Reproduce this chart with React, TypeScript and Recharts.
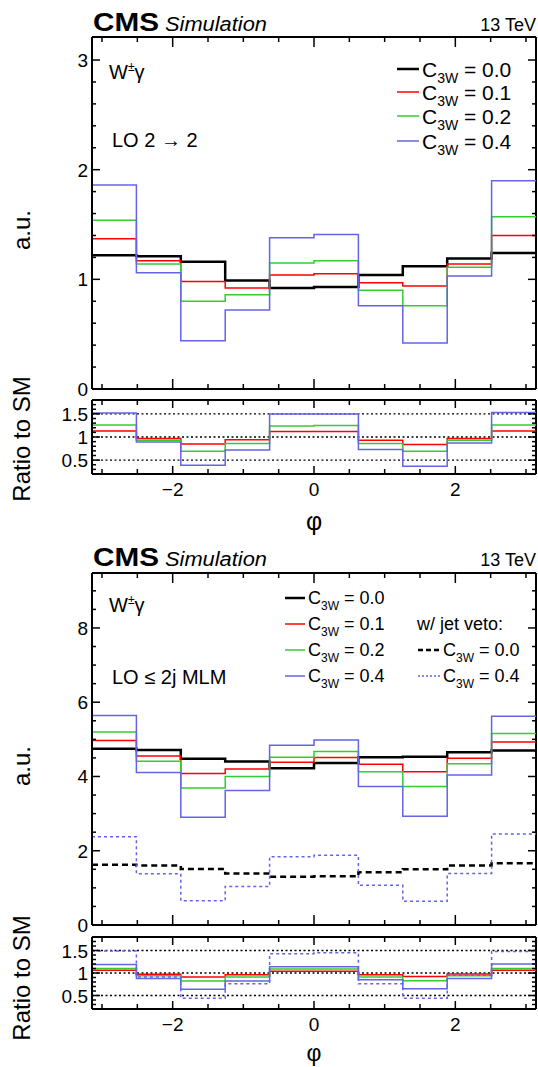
import { LineChart, Line, XAxis, YAxis, ReferenceLine } from 'recharts';

const FONT = '"Liberation Sans", Arial, Helvetica, sans-serif';
const PAGE_W = 538;
const PLOT_LEFT = 92;
const PLOT_W = 444;

// phi bin edges (10 bins over -pi..pi)
const binEdges = [-3.1416, -2.5133, -1.885, -1.2566, -0.6283, 0, 0.6283, 1.2566, 1.885, 2.5133, 3.1416];
const phiTicks = [-3, -2.5, -2, -1.5, -1, -0.5, 0, 0.5, 1, 1.5, 2, 2.5, 3];
const phiLabels = [-2, 0, 2];

// upper panel: LO 2 -> 2
const lo22C00 = [1.22, 1.21, 1.16, 0.99, 0.92, 0.93, 1.04, 1.12, 1.19, 1.24];
const lo22C01 = [1.37, 1.17, 0.98, 0.92, 1.04, 1.05, 0.97, 0.94, 1.14, 1.40];
const lo22C02 = [1.54, 1.14, 0.80, 0.86, 1.15, 1.17, 0.90, 0.76, 1.11, 1.57];
const lo22C04 = [1.86, 1.06, 0.44, 0.72, 1.38, 1.41, 0.76, 0.42, 1.03, 1.90];
const lo22RatioC01 = [1.13, 0.97, 0.85, 0.94, 1.12, 1.12, 0.93, 0.84, 0.97, 1.13];
const lo22RatioC02 = [1.26, 0.93, 0.69, 0.86, 1.24, 1.25, 0.86, 0.69, 0.93, 1.26];
const lo22RatioC04 = [1.52, 0.89, 0.39, 0.72, 1.50, 1.50, 0.73, 0.37, 0.87, 1.53];

// lower panel: LO <= 2j MLM
const mlmC00 = [4.75, 4.71, 4.48, 4.40, 4.22, 4.36, 4.52, 4.53, 4.65, 4.70];
const mlmC01 = [4.97, 4.55, 4.08, 4.20, 4.38, 4.51, 4.33, 4.13, 4.49, 4.93];
const mlmC02 = [5.20, 4.41, 3.69, 4.00, 4.52, 4.67, 4.13, 3.73, 4.34, 5.16];
const mlmC04 = [5.64, 4.11, 2.90, 3.62, 4.84, 4.98, 3.73, 2.93, 4.04, 5.62];
const vetoC00 = [1.62, 1.60, 1.51, 1.39, 1.30, 1.31, 1.42, 1.50, 1.60, 1.66];
const vetoC04 = [2.38, 1.38, 0.65, 1.04, 1.84, 1.88, 1.07, 0.64, 1.39, 2.45];
const mlmRatioC01 = [1.06, 0.97, 0.91, 0.96, 1.04, 1.04, 0.96, 0.92, 0.98, 1.06];
const mlmRatioC02 = [1.10, 0.94, 0.82, 0.91, 1.09, 1.09, 0.91, 0.83, 0.94, 1.10];
const mlmRatioC04 = [1.19, 0.88, 0.64, 0.82, 1.14, 1.14, 0.85, 0.65, 0.88, 1.20];
const vetoRatioC04 = [1.49, 0.91, 0.44, 0.76, 1.43, 1.45, 0.76, 0.44, 0.95, 1.48];

// y ticks
const lo22Ticks = [0, 0.2, 0.4, 0.6, 0.8, 1, 1.2, 1.4, 1.6, 1.8, 2, 2.2, 2.4, 2.6, 2.8, 3];
const lo22Majors = [0, 1, 2, 3];
const mlmTicks = [0, 0.5, 1, 1.5, 2, 2.5, 3, 3.5, 4, 4.5, 5, 5.5, 6, 6.5, 7, 7.5, 8, 8.5, 9];
const mlmMajors = [0, 2, 4, 6, 8];
const ratioTicks = [0.3, 0.4, 0.5, 0.6, 0.7, 0.8, 0.9, 1, 1.1, 1.2, 1.3, 1.4, 1.5, 1.6, 1.7];
const ratioMajors = [0.5, 1, 1.5];
const ratioGuides = [0.5, 1, 1.5];

const BLACK = '#000000';
const RED = '#ff0000';
const GREEN = '#33cc33';
const BLUE = '#6464e6';

type Series = { key: string; values: number[]; color: string; width: number; dash?: string };

function buildRows(series: Series[]) {
  return binEdges.map((edge, i) => {
    const row: Record<string, number> = { phi: edge };
    series.forEach((s) => {
      row[s.key] = s.values[Math.min(i, s.values.length - 1)];
    });
    return row;
  });
}

const fmtPhi = (v: number) => (v < 0 ? '\u2212' + Math.abs(v) : String(v));

function makeXTick(plotH: number, majorLen: number, minorLen: number, labels: boolean) {
  return (props: any) => {
    const { x, y, payload } = props;
    const v = payload.value;
    const major = phiLabels.includes(v);
    const len = major ? majorLen : minorLen;
    return (
      <g>
        <line x1={x} y1={y} x2={x} y2={y - len} stroke="#000" strokeWidth={1.5} />
        <line x1={x} y1={y - plotH} x2={x} y2={y - plotH + len} stroke="#000" strokeWidth={1.5} />
        {labels && major && (
          <text x={x} y={y + 22} textAnchor="middle" fontSize={19} fontFamily={FONT} fill="#000">
            {fmtPhi(v)}
          </text>
        )}
      </g>
    );
  };
}

function makeYTick(majors: number[], majorLen: number, minorLen: number) {
  return (props: any) => {
    const { x, y, payload } = props;
    const v = payload.value;
    const major = majors.includes(v);
    const len = major ? majorLen : minorLen;
    return (
      <g>
        <line x1={x} y1={y} x2={x + len} y2={y} stroke="#000" strokeWidth={1.5} />
        <line x1={x + PLOT_W} y1={y} x2={x + PLOT_W - len} y2={y} stroke="#000" strokeWidth={1.5} />
        {major && (
          <text x={x - 4} y={y + 7} textAnchor="end" fontSize={19} fontFamily={FONT} fill="#000">
            {String(v)}
          </text>
        )}
      </g>
    );
  };
}

interface PanelProps {
  top: number;
  plotH: number;
  yMax: number;
  yMin: number;
  yTicks: number[];
  yMajors: number[];
  series: Series[];
  guides?: number[];
  xLabels: boolean;
  ratio: boolean;
}

function HistPanel({ top, plotH, yMin, yMax, yTicks, yMajors, series, guides = [], xLabels, ratio }: PanelProps) {
  const mTop = 10;
  const axisH = xLabels ? 30 : 12;
  const rows = buildRows(series);
  return (
    <div style={{ position: 'absolute', left: 0, top: top - mTop }}>
      <LineChart
        width={PAGE_W}
        height={plotH + mTop + axisH}
        data={rows}
        margin={{ top: mTop, right: 2, bottom: 0, left: 0 }}
      >
        <XAxis
          dataKey="phi"
          type="number"
          domain={[binEdges[0], binEdges[binEdges.length - 1]]}
          allowDataOverflow
          ticks={phiTicks}
          interval={0}
          height={axisH}
          tickSize={0}
          tickMargin={0}
          axisLine={{ stroke: '#000', strokeWidth: 2 }}
          tick={makeXTick(plotH, ratio ? 8 : 10, 5, xLabels)}
        />
        <YAxis
          type="number"
          domain={[yMin, yMax]}
          allowDataOverflow
          ticks={yTicks}
          interval={0}
          width={PLOT_LEFT}
          tickSize={0}
          tickMargin={0}
          axisLine={{ stroke: '#000', strokeWidth: 2 }}
          tick={makeYTick(yMajors, 8, 4)}
        />
        {guides.map((g) => (
          <ReferenceLine key={g} y={g} stroke="#000" strokeWidth={1.3} strokeDasharray="2 2.5" />
        ))}
        <ReferenceLine y={yMax} stroke="#000" strokeWidth={2} />
        <ReferenceLine x={binEdges[binEdges.length - 1]} stroke="#000" strokeWidth={2} />
        {series.map((s) => (
          <Line
            key={s.key}
            dataKey={s.key}
            type="stepAfter"
            stroke={s.color}
            strokeWidth={s.width}
            strokeDasharray={s.dash}
            dot={false}
            activeDot={false}
            isAnimationActive={false}
          />
        ))}
      </LineChart>
    </div>
  );
}

function Coef({ x, y, value, size }: { x: number; y: number; value: string; size: number }) {
  const sub = Math.round(size * 0.68);
  return (
    <text x={x} y={y + size * 0.36} fontSize={size} fontFamily={FONT} fill="#000">
      C
      <tspan fontSize={sub} dy={size * 0.3}>3W</tspan>
      <tspan dy={-size * 0.3}>{' = ' + value}</tspan>
    </text>
  );
}

function LegendRow({ x1, x2, y, color, width, dash, value, size }: any) {
  return (
    <g>
      <line x1={x1} x2={x2} y1={y} y2={y} stroke={color} strokeWidth={width} strokeDasharray={dash} />
      <Coef x={x2 + 3} y={y} value={value} size={size} />
    </g>
  );
}

function Header({ base }: { base: number }) {
  return (
    <g fontFamily={FONT} fill="#000">
      <text x={93} y={base} fontSize={26} fontWeight="bold" textLength={66} lengthAdjust="spacingAndGlyphs">
        CMS
      </text>
      <text x={165} y={base} fontSize={20} fontStyle="italic" textLength={102} lengthAdjust="spacingAndGlyphs">
        Simulation
      </text>
      <text x={536} y={base} fontSize={18} textAnchor="end">
        13 TeV
      </text>
    </g>
  );
}

function Wgamma({ y }: { y: number }) {
  return (
    <text x={109} y={y + 7} fontSize={20} fontFamily={FONT} fill="#000">
      W<tspan fontSize={12} dy={-8}>±</tspan>
      <tspan dy={8}>γ</tspan>
    </text>
  );
}

function Overlay() {
  return (
    <svg
      width={PAGE_W}
      height={1067}
      style={{ position: 'absolute', left: 0, top: 0, pointerEvents: 'none' }}
    >
      <Header base={31} />
      <Wgamma y={72} />
      <text x={112} y={147} fontSize={20} fontFamily={FONT} fill="#000">
        LO 2 → 2
      </text>
      <LegendRow x1={397} x2={419} y={69} color={BLACK} width={2.5} value="0.0" size={21} />
      <LegendRow x1={397} x2={419} y={92} color={RED} width={1.5} value="0.1" size={21} />
      <LegendRow x1={397} x2={419} y={116} color={GREEN} width={1.5} value="0.2" size={21} />
      <LegendRow x1={397} x2={419} y={141} color={BLUE} width={1.5} value="0.4" size={21} />
      <text transform="translate(30,230) rotate(-90)" textAnchor="middle" fontSize={24} fontFamily={FONT}>
        a.u.
      </text>
      <text transform="translate(30,439) rotate(-90)" textAnchor="middle" fontSize={24} fontFamily={FONT}>
        Ratio to SM
      </text>
      <text x={314} y={530} textAnchor="middle" fontSize={25} fontFamily={FONT}>
        φ
      </text>

      <Header base={566} />
      <Wgamma y={605} />
      <text x={112} y={684} fontSize={20} fontFamily={FONT} fill="#000">
        LO ≤ 2j MLM
      </text>
      <LegendRow x1={285} x2={305} y={598} color={BLACK} width={2.5} value="0.0" size={18} />
      <LegendRow x1={285} x2={305} y={624} color={RED} width={1.5} value="0.1" size={18} />
      <LegendRow x1={285} x2={305} y={650} color={GREEN} width={1.5} value="0.2" size={18} />
      <LegendRow x1={285} x2={305} y={676} color={BLUE} width={1.5} value="0.4" size={18} />
      <text x={417} y={630} fontSize={18} fontFamily={FONT}>
        w/ jet veto:
      </text>
      <LegendRow x1={418} x2={440} y={650} color={BLACK} width={2.5} dash="5 3" value="0.0" size={18} />
      <LegendRow x1={418} x2={440} y={676} color={BLUE} width={1.5} dash="2 2" value="0.4" size={18} />
      <text transform="translate(30,766) rotate(-90)" textAnchor="middle" fontSize={24} fontFamily={FONT}>
        a.u.
      </text>
      <text transform="translate(30,978) rotate(-90)" textAnchor="middle" fontSize={24} fontFamily={FONT}>
        Ratio to SM
      </text>
      <text x={314} y={1061} textAnchor="middle" fontSize={23} fontFamily={FONT}>
        φ
      </text>
    </svg>
  );
}

const lo22Main: Series[] = [
  { key: 'c00', values: lo22C00, color: BLACK, width: 2.5 },
  { key: 'c01', values: lo22C01, color: RED, width: 1.5 },
  { key: 'c02', values: lo22C02, color: GREEN, width: 1.5 },
  { key: 'c04', values: lo22C04, color: BLUE, width: 1.5 },
];
const lo22Ratio: Series[] = [
  { key: 'r01', values: lo22RatioC01, color: RED, width: 1.5 },
  { key: 'r02', values: lo22RatioC02, color: GREEN, width: 1.5 },
  { key: 'r04', values: lo22RatioC04, color: BLUE, width: 1.5 },
];
const mlmMain: Series[] = [
  { key: 'c00', values: mlmC00, color: BLACK, width: 2.5 },
  { key: 'c01', values: mlmC01, color: RED, width: 1.5 },
  { key: 'c02', values: mlmC02, color: GREEN, width: 1.5 },
  { key: 'c04', values: mlmC04, color: BLUE, width: 1.5 },
  { key: 'v00', values: vetoC00, color: BLACK, width: 2.5, dash: '6 4' },
  { key: 'v04', values: vetoC04, color: BLUE, width: 1.5, dash: '3 3' },
];
const mlmRatio: Series[] = [
  { key: 'r01', values: mlmRatioC01, color: RED, width: 1.5 },
  { key: 'r02', values: mlmRatioC02, color: GREEN, width: 1.5 },
  { key: 'r04', values: mlmRatioC04, color: BLUE, width: 1.5 },
  { key: 'rv4', values: vetoRatioC04, color: BLUE, width: 1.5, dash: '3 3' },
];

export default function App() {
  return (
    <div style={{ position: 'absolute', left: 0, top: 0, width: PAGE_W, height: 1067, background: '#fff', fontFamily: FONT }}>
      <HistPanel top={37} plotH={352} yMin={0} yMax={3.21} yTicks={lo22Ticks} yMajors={lo22Majors} series={lo22Main} xLabels={false} ratio={false} />
      <HistPanel top={400} plotH={74} yMin={0.2} yMax={1.8} yTicks={ratioTicks} yMajors={ratioMajors} series={lo22Ratio} guides={ratioGuides} xLabels ratio />
      <HistPanel top={573} plotH={352} yMin={0} yMax={9.48} yTicks={mlmTicks} yMajors={mlmMajors} series={mlmMain} xLabels={false} ratio={false} />
      <HistPanel top={937} plotH={72} yMin={0.2} yMax={1.8} yTicks={ratioTicks} yMajors={ratioMajors} series={mlmRatio} guides={ratioGuides} xLabels ratio />
      <Overlay />
    </div>
  );
}
